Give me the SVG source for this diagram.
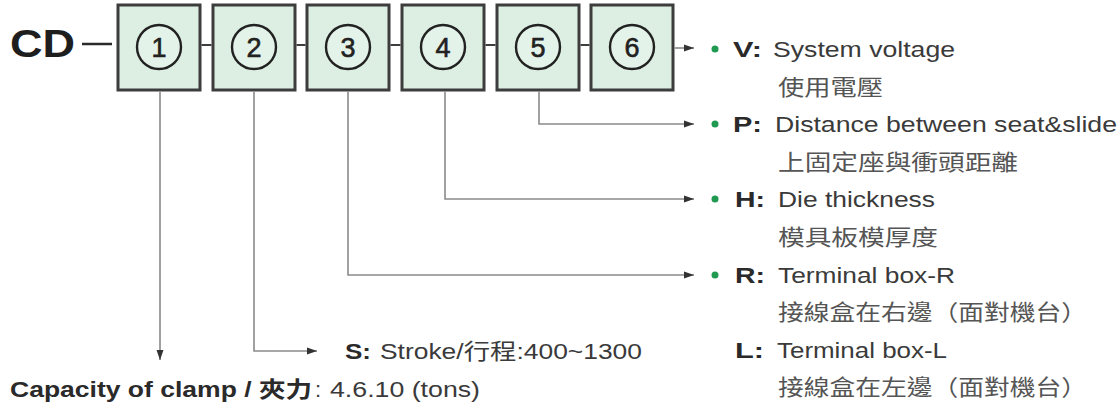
<svg xmlns="http://www.w3.org/2000/svg" width="1120" height="412" viewBox="0 0 1120 412">
<defs>
<marker id="arr" markerWidth="11" markerHeight="8" refX="10" refY="4" orient="auto" markerUnits="userSpaceOnUse">
<path d="M0,0.5 L10,4 L0,7.5 z" fill="#333"/>
</marker>
<style>
.box{fill:#dcefe2;stroke:#3d3d3d;stroke-width:3}
.circ{fill:#e4f3e9;stroke:#222;stroke-width:2.4}
.num{font-family:"Liberation Sans",Arial,sans-serif;font-size:27px;fill:#222;stroke:#222;stroke-width:0.6;text-anchor:middle}
.link{stroke:#3d3d3d;stroke-width:2;fill:none}
.con{stroke:#8a8a8a;stroke-width:1.6;fill:none}
.t{font-family:"Liberation Sans",Arial,"Noto Sans CJK TC",sans-serif;font-size:22px;fill:#3a3a3a}
.b{font-family:"Liberation Sans",Arial,"Noto Sans CJK TC",sans-serif;font-size:22px;font-weight:bold;fill:#2a2a2a}
.cjk{font-family:"Noto Sans CJK TC","Liberation Sans",sans-serif;font-size:22px;fill:#555}
.dot{fill:#1f9a50}
</style>
</defs>
<rect width="1120" height="412" fill="#ffffff"/>

<g id="title">
<text x="10" y="57" font-family="Liberation Sans,Arial,sans-serif" font-size="38" font-weight="bold" fill="#1e1e1e" textLength="65" lengthAdjust="spacingAndGlyphs">CD</text>
<line x1="82" y1="44" x2="112" y2="44" stroke="#2a2a2a" stroke-width="2.5"/>
</g>

<g id="box1"><rect class="box" x="118" y="5" width="82" height="85"/><circle class="circ" cx="159" cy="47" r="22"/><text class="num" x="159" y="57">1</text></g>
<g id="box2"><rect class="box" x="213" y="5" width="82" height="85"/><circle class="circ" cx="254" cy="47" r="22"/><text class="num" x="254" y="57">2</text></g>
<g id="box3"><rect class="box" x="307" y="5" width="82" height="85"/><circle class="circ" cx="348" cy="47" r="22"/><text class="num" x="348" y="57">3</text></g>
<g id="box4"><rect class="box" x="402" y="5" width="82" height="85"/><circle class="circ" cx="443" cy="47" r="22"/><text class="num" x="443" y="57">4</text></g>
<g id="box5"><rect class="box" x="497" y="5" width="82" height="85"/><circle class="circ" cx="538" cy="47" r="22"/><text class="num" x="538" y="57">5</text></g>
<g id="box6"><rect class="box" x="591" y="5" width="82" height="85"/><circle class="circ" cx="632" cy="47" r="22"/><text class="num" x="632" y="57">6</text></g>

<g id="connectors">
<line class="link" x1="201.5" y1="45" x2="211.5" y2="45"/>
<line class="link" x1="296.5" y1="45" x2="305.5" y2="45"/>
<line class="link" x1="390.5" y1="45" x2="400.5" y2="45"/>
<line class="link" x1="485.5" y1="45" x2="495.5" y2="45"/>
<line class="link" x1="580.5" y1="45" x2="589.5" y2="45"/>
<line class="con" x1="674.5" y1="48" x2="694" y2="48" stroke="#444" marker-end="url(#arr)"/>
<path class="con" d="M539,91.5 V124 H694" marker-end="url(#arr)"/>
<path class="con" d="M445,91.5 V199 H694" marker-end="url(#arr)"/>
<path class="con" d="M348,91.5 V275 H694" marker-end="url(#arr)"/>
<path class="con" d="M254,91.5 V351 H317" marker-end="url(#arr)"/>
<path class="con" d="M160,91.5 V360" marker-end="url(#arr)"/>
</g>

<g id="opt-V">
<circle class="dot" cx="715" cy="49" r="3.5"/>
<text class="b" x="733" y="57" textLength="29" lengthAdjust="spacingAndGlyphs">V:</text>
<text class="t" x="773" y="57" textLength="182" lengthAdjust="spacingAndGlyphs">System voltage</text>
<text class="cjk" x="778" y="95" textLength="105" lengthAdjust="spacingAndGlyphs">使用電壓</text>
</g>
<g id="opt-P">
<circle class="dot" cx="715" cy="124" r="3.5"/>
<text class="b" x="733" y="132" textLength="29" lengthAdjust="spacingAndGlyphs">P:</text>
<text class="t" x="775" y="132" textLength="342" lengthAdjust="spacingAndGlyphs">Distance between seat&amp;slide</text>
<text class="cjk" x="778" y="170" textLength="240" lengthAdjust="spacingAndGlyphs">上固定座與衝頭距離</text>
</g>
<g id="opt-H">
<circle class="dot" cx="715" cy="199" r="3.5"/>
<text class="b" x="735" y="207" textLength="30" lengthAdjust="spacingAndGlyphs">H:</text>
<text class="t" x="778" y="207" textLength="157" lengthAdjust="spacingAndGlyphs">Die thickness</text>
<text class="cjk" x="778" y="245" textLength="160" lengthAdjust="spacingAndGlyphs">模具板模厚度</text>
</g>
<g id="opt-R">
<circle class="dot" cx="715" cy="275" r="3.5"/>
<text class="b" x="735" y="283" textLength="30" lengthAdjust="spacingAndGlyphs">R:</text>
<text class="t" x="778" y="283" textLength="177" lengthAdjust="spacingAndGlyphs">Terminal box-R</text>
<text class="cjk" x="778" y="320" textLength="309" lengthAdjust="spacingAndGlyphs">接線盒在右邊（面對機台）</text>
</g>
<g id="opt-L">
<text class="b" x="735" y="358" textLength="29" lengthAdjust="spacingAndGlyphs">L:</text>
<text class="t" x="777" y="358" textLength="170" lengthAdjust="spacingAndGlyphs">Terminal box-L</text>
<text class="cjk" x="778" y="395" textLength="309" lengthAdjust="spacingAndGlyphs">接線盒在左邊（面對機台）</text>
</g>
<g id="opt-S">
<text class="b" x="345" y="359" textLength="26" lengthAdjust="spacingAndGlyphs">S:</text>
<text class="t" x="380" y="359" textLength="262" lengthAdjust="spacingAndGlyphs">Stroke/行程:400~1300</text>
</g>
<g id="opt-capacity">
<text class="b" x="10" y="397" textLength="302" lengthAdjust="spacingAndGlyphs">Capacity of clamp / 夾力</text>
<text class="t" x="315" y="397">:</text>
<text class="t" x="330" y="397" textLength="150" lengthAdjust="spacingAndGlyphs">4.6.10 (tons)</text>
</g>
</svg>
